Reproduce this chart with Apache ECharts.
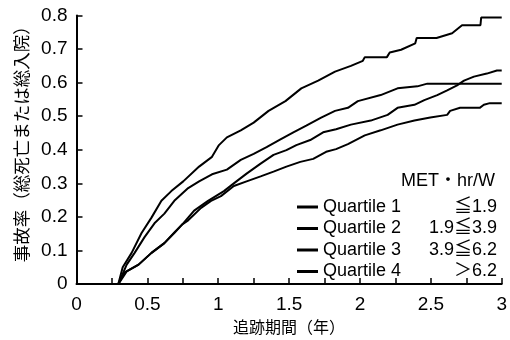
<!DOCTYPE html>
<html>
<head>
<meta charset="utf-8">
<script src="https://cdn.jsdelivr.net/npm/echarts@6/dist/echarts.min.js"></script>
<style>
  html, body { margin: 0; padding: 0; background: #fff; }
  #main { width: 510px; height: 340px; }
</style>
</head>
<body>
<div id="main"></div>
<script>
  // [years, event rate], corners kept where the plateaus show
  var quartile1 = [[0, 0], [0.295, 0], [0.326, 0.05], [0.389, 0.093], [0.459, 0.152], [0.529, 0.198],
    [0.599, 0.248], [0.669, 0.277], [0.753, 0.306], [0.865, 0.35], [0.956, 0.379], [1.005, 0.414],
    [1.061, 0.437], [1.159, 0.458], [1.25, 0.481], [1.355, 0.516], [1.474, 0.545], [1.586, 0.583],
    [1.705, 0.606], [1.824, 0.633], [1.936, 0.65], [2.02, 0.665], [2.034, 0.676], [2.19, 0.676],
    [2.21, 0.69], [2.29, 0.698], [2.39, 0.717], [2.4, 0.733], [2.54, 0.733], [2.65, 0.747],
    [2.72, 0.771], [2.85, 0.771], [2.855, 0.794], [3, 0.794]];
  var quartile2 = [[0, 0], [0.295, 0], [0.354, 0.058], [0.41, 0.093], [0.48, 0.14], [0.55, 0.181],
    [0.62, 0.21], [0.69, 0.248], [0.788, 0.286], [0.865, 0.306], [0.956, 0.327], [1.061, 0.341],
    [1.159, 0.37], [1.25, 0.388], [1.341, 0.408], [1.439, 0.431], [1.53, 0.452], [1.621, 0.472],
    [1.726, 0.496], [1.824, 0.516], [1.915, 0.525], [1.985, 0.545], [2.146, 0.563], [2.265, 0.583],
    [2.405, 0.589], [2.475, 0.597], [3, 0.597]];
  var quartile3 = [[0, 0], [0.295, 0], [0.34, 0.035], [0.438, 0.058], [0.529, 0.093], [0.62, 0.122],
    [0.69, 0.152], [0.753, 0.181], [0.83, 0.219], [0.928, 0.248], [1.04, 0.277], [1.11, 0.3],
    [1.2, 0.329], [1.299, 0.359], [1.39, 0.385], [1.481, 0.399], [1.551, 0.414], [1.649, 0.429],
    [1.74, 0.452], [1.831, 0.461], [1.936, 0.475], [2.076, 0.487], [2.195, 0.504], [2.265, 0.525],
    [2.384, 0.534], [2.454, 0.548], [2.545, 0.563], [2.615, 0.577], [2.685, 0.592], [2.734, 0.606],
    [2.804, 0.618], [2.895, 0.627], [2.966, 0.636], [3, 0.636]];
  var quartile4 = [[0, 0], [0.295, 0], [0.354, 0.038], [0.438, 0.058], [0.529, 0.093], [0.62, 0.122],
    [0.697, 0.157], [0.746, 0.178], [0.788, 0.19], [0.879, 0.227], [0.949, 0.248], [1.019, 0.262],
    [1.11, 0.292], [1.2, 0.306], [1.299, 0.321], [1.39, 0.335], [1.481, 0.35], [1.579, 0.364],
    [1.67, 0.373], [1.761, 0.394], [1.831, 0.402], [1.915, 0.417], [2.034, 0.443], [2.146, 0.458],
    [2.265, 0.475], [2.384, 0.487], [2.496, 0.496], [2.615, 0.504], [2.636, 0.516], [2.706, 0.525],
    [2.845, 0.525], [2.874, 0.534], [2.916, 0.539], [3, 0.539]];

  var quartileNames = ['Quartile 1', 'Quartile 2', 'Quartile 3', 'Quartile 4'];
  var metRanges = ['≦1.9', '1.9≦3.9', '3.9≦6.2', '＞6.2'];
  var curves = [quartile1, quartile2, quartile3, quartile4];

  var latin = '"Liberation Sans", Arial, sans-serif';
  var mixed = '"Liberation Sans", "Noto Sans CJK JP", sans-serif';
  var jp = '"Noto Sans CJK JP", sans-serif';

  var chart = echarts.init(document.getElementById('main'));

  var series = curves.map(function (d, i) {
    return {
      name: quartileNames[i],
      type: 'line',
      showSymbol: false,
      silent: true,
      color: '#000',
      lineStyle: {color: '#000', width: 2},
      data: d
    };
  });

  var tickStyle = {color: '#000', width: 1.5};

  chart.setOption({
    animation: false,
    backgroundColor: '#fff',
    grid: {left: 76.5, right: 5, top: 15.5, bottom: 50},
    xAxis: {
      type: 'value',
      min: 0,
      max: 3,
      interval: 0.5,
      name: '追跡期間（年）',
      nameLocation: 'middle',
      nameGap: 30,
      nameTextStyle: {fontFamily: jp, fontSize: 16, color: '#000'},
      axisLine: {show: true, lineStyle: {color: '#000', width: 2}},
      axisTick: {show: true, inside: true, length: 6, lineStyle: tickStyle},
      minorTick: {show: true, splitNumber: 2, length: 6, lineStyle: tickStyle},
      splitLine: {show: false},
      axisLabel: {fontFamily: latin, fontSize: 19, color: '#000', margin: 11}
    },
    yAxis: {
      type: 'value',
      min: 0,
      max: 0.8,
      interval: 0.1,
      name: '事故率（総死亡または総入院）',
      nameLocation: 'middle',
      nameGap: 44,
      nameTextStyle: {fontFamily: jp, fontSize: 17.5, color: '#000', padding: [0, 0, 0, 20]},
      axisLine: {show: true, lineStyle: {color: '#000', width: 2}},
      axisTick: {show: true, inside: true, length: 6, lineStyle: tickStyle},
      splitLine: {show: false},
      axisLabel: {fontFamily: latin, fontSize: 19, color: '#000', margin: 9}
    },
    legend: {
      orient: 'vertical',
      left: 292,
      top: 193,
      icon: 'rect',
      itemWidth: 21,
      itemHeight: 3,
      itemGap: 3.5,
      selectedMode: false,
      data: quartileNames,
      formatter: function (name) {
        return '{n|' + name + '}{r|' + metRanges[quartileNames.indexOf(name)] + '}';
      },
      textStyle: {
        color: '#000',
        fontFamily: latin,
        fontSize: 18,
        rich: {
          n: {width: 80, fontSize: 18, fontFamily: latin, color: '#000'},
          r: {width: 94, align: 'right', fontSize: 18, fontFamily: mixed, color: '#000'}
        }
      }
    },
    graphic: [{
      type: 'text',
      right: 15,
      top: 172,
      style: {text: 'MET・hr/W', font: '18px "Liberation Sans", "Noto Sans CJK JP", sans-serif', fill: '#000'}
    }],
    series: series
  });
</script>
</body>
</html>
